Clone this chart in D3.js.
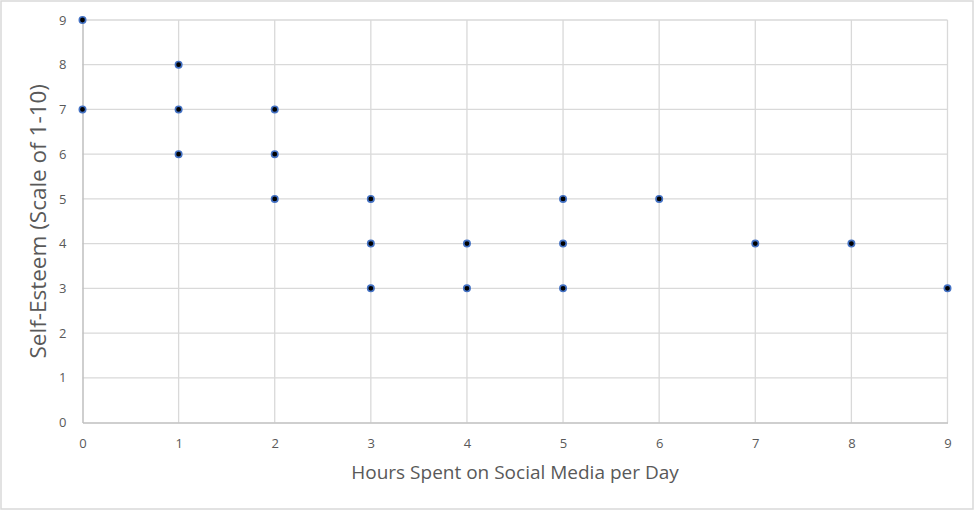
<!DOCTYPE html>
<html>
<head>
<meta charset="utf-8">
<script src="https://cdn.jsdelivr.net/npm/d3@7"></script>
<style>
  body { margin: 0; background: #fff; }
  svg { display: block; }
  .tick text { font-family: "Open Sans", sans-serif; font-size: 13px; fill: #595959; }
</style>
</head>
<body>
<script>
// hours per day and self-esteem score for each respondent
var hours = [0, 0, 1, 1, 1, 2, 2, 2, 3, 3, 3, 4, 4, 5, 5, 5, 6, 7, 8, 9];
var esteem = [9, 7, 8, 7, 6, 7, 6, 5, 5, 4, 3, 4, 3, 5, 4, 3, 5, 4, 4, 3];
var xTicks = [0, 1, 2, 3, 4, 5, 6, 7, 8, 9];
var yTicks = [0, 1, 2, 3, 4, 5, 6, 7, 8, 9];

var width = 974, height = 510;
var margin = { left: 82.5, right: 26.5, top: 20, bottom: 87.5 };

var svg = d3.select("body").append("svg").attr("width", width).attr("height", height);

// outer chart border
svg.append("rect").attr("x", 1).attr("y", 1).attr("width", width - 2).attr("height", height - 2)
    .attr("fill", "#fff").attr("stroke", "#d9d9d9").attr("stroke-width", 1.5);

var x = d3.scaleLinear().domain([0, 9]).range([margin.left, width - margin.right]);
var y = d3.scaleLinear().domain([0, 9]).range([height - margin.bottom, margin.top]);

// gridlines
svg.append("g").selectAll("line").data(yTicks.slice(1)).enter().append("line")
    .attr("x1", x(0)).attr("x2", x(9))
    .attr("y1", function (d) { return y(d); }).attr("y2", function (d) { return y(d); })
    .attr("stroke", "#d9d9d9").attr("stroke-width", 1.3);
svg.append("g").selectAll("line").data(xTicks.slice(1)).enter().append("line")
    .attr("y1", y(0)).attr("y2", y(9))
    .attr("x1", function (d) { return x(d); }).attr("x2", function (d) { return x(d); })
    .attr("stroke", "#d9d9d9").attr("stroke-width", 1.3);

// axes
var xAxis = svg.append("g").attr("transform", "translate(0," + y(0) + ")")
    .call(d3.axisBottom(x).tickValues(xTicks).tickSize(0).tickPadding(16).tickFormat(d3.format("d")));
var yAxis = svg.append("g").attr("transform", "translate(" + x(0) + ",0)")
    .call(d3.axisLeft(y).tickValues(yTicks).tickSize(0).tickPadding(16).tickFormat(d3.format("d")));
xAxis.select(".domain").attr("stroke", "#bfbfbf").attr("stroke-width", 1.5);
yAxis.select(".domain").attr("stroke", "#bfbfbf").attr("stroke-width", 1.5);

// axis titles
svg.append("text").attr("x", x(4.5)).attr("y", 479).attr("text-anchor", "middle")
    .style("font-family", "'Open Sans', sans-serif").style("font-size", "19px").style("fill", "#595959")
    .text("Hours Spent on Social Media per Day");
svg.append("text").attr("transform", "translate(46," + y(4.5) + ") rotate(-90)").attr("text-anchor", "middle")
    .style("font-family", "'Open Sans', sans-serif").style("font-size", "22.5px").style("fill", "#595959")
    .text("Self-Esteem (Scale of 1-10)");

// points
svg.append("g").selectAll("circle").data(hours).enter().append("circle")
    .attr("cx", function (d) { return x(d); })
    .attr("cy", function (d, i) { return y(esteem[i]); })
    .attr("r", 3.2)
    .attr("fill", "#000").attr("stroke", "#4472c4").attr("stroke-width", 1.6);
</script>
</body>
</html>
